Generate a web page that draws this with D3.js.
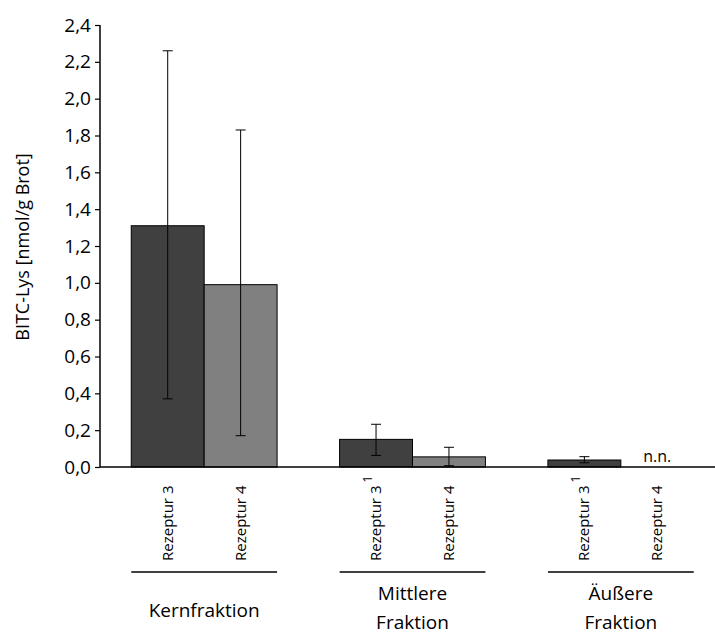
<!DOCTYPE html>
<html><head><meta charset="utf-8">
<script src="https://cdn.jsdelivr.net/npm/d3@7"></script>
<style>body{margin:0;background:#fff}text{font-family:"Open Sans","Noto Sans",sans-serif;fill:#000}</style>
</head><body>
<svg id="c" width="715" height="636"></svg>
<script>
const groups = ["Kernfraktion", "Mittlere\nFraktion", "Äußere\nFraktion"];
const series = ["Rezeptur 3", "Rezeptur 4"];
const colors = ["#404040", "#808080"];
const values = [[1.31, 0.99], [0.15, 0.055], [0.038, 0]];
const errLow = [[0.37, 0.17], [0.063, 0.007], [0.023, null]];
const errHigh = [[2.26, 1.83], [0.232, 0.107], [0.056, null]];
const superscript = [["", ""], ["1", ""], ["1", ""]];
const notDetected = [[false, false], [false, false], [false, true]];
const yTicks = [0, 0.2, 0.4, 0.6, 0.8, 1.0, 1.2, 1.4, 1.6, 1.8, 2.0, 2.2, 2.4];

const svg = d3.select("#c");
const x0 = d3.scaleBand().domain(d3.range(groups.length)).range([100, 725]).paddingInner(0.3).paddingOuter(0.15);
const x1 = d3.scaleBand().domain(d3.range(series.length)).range([0, x0.bandwidth()]);
const y = d3.scaleLinear().domain([0, 2.4]).range([467, 25]);
const fmt = d => d3.format(".1f")(d).replace(".", ",");

const yAxis = svg.append("g").attr("transform", "translate(100,0)")
  .call(d3.axisLeft(y).tickValues(yTicks).tickFormat(fmt).tickSize(5).tickPadding(4));
yAxis.select(".domain").attr("stroke", "#000").attr("stroke-width", 1.5).attr("d", "M0,25V467");
yAxis.selectAll(".tick line").attr("stroke", "#000").attr("stroke-width", 1.2);
yAxis.selectAll(".tick text").style("font-size", "19px").attr("fill", "#000");

svg.append("text").attr("transform", "translate(29,247) rotate(-90)")
  .attr("text-anchor", "middle").style("font-size", "18px").text("BITC-Lys [nmol/g Brot]");

groups.forEach((g, gi) => {
  const gx = x0(gi);
  const gg = svg.append("g").attr("transform", `translate(${gx},0)`);
  series.forEach((s, si) => {
    const bx = x1(si), bw = x1.bandwidth(), cx = bx + bw / 2;
    const v = values[gi][si];
    gg.append("rect").attr("x", bx).attr("y", y(v)).attr("width", bw).attr("height", y(0) - y(v))
      .attr("fill", colors[si]).attr("stroke", "#000").attr("stroke-width", 1);
    if (errHigh[gi][si] !== null) {
      const lo = y(errLow[gi][si]), hi = y(errHigh[gi][si]);
      gg.append("line").attr("x1", cx).attr("x2", cx).attr("y1", lo).attr("y2", hi).attr("stroke", "#000").attr("stroke-width", 1);
      [lo, hi].forEach(yy => gg.append("line").attr("x1", cx - 5).attr("x2", cx + 5).attr("y1", yy).attr("y2", yy).attr("stroke", "#000").attr("stroke-width", 1));
    }
    if (notDetected[gi][si]) {
      gg.append("text").attr("x", cx).attr("y", y(0) - 5).attr("text-anchor", "middle").style("font-size", "16px").text("n.n.");
    }
    const t = gg.append("text").attr("transform", `translate(${cx + 5},561) rotate(-90)`)
      .attr("text-anchor", "start").style("font-size", "15px");
    t.append("tspan").text(s);
    if (superscript[gi][si]) t.append("tspan").attr("dy", -9).attr("dx", 3).style("font-size", "12px").text(superscript[gi][si]);
  });
  gg.append("line").attr("x1", 0).attr("x2", x0.bandwidth()).attr("y1", 572).attr("y2", 572).attr("stroke", "#000").attr("stroke-width", 1.5);
  const lines = g.split("\n");
  const lt = gg.append("text").attr("text-anchor", "middle").style("font-size", "19px");
  if (lines.length === 1) {
    lt.append("tspan").attr("x", x0.bandwidth() / 2).attr("y", 617).text(lines[0]);
  } else {
    lines.forEach((l, li) => lt.append("tspan").attr("x", x0.bandwidth() / 2).attr("y", 600 + li * 29).text(l));
  }
});

svg.append("line").attr("x1", 100).attr("x2", 715).attr("y1", y(0)).attr("y2", y(0)).attr("stroke", "#000").attr("stroke-width", 1.5);
</script>
</body></html>
